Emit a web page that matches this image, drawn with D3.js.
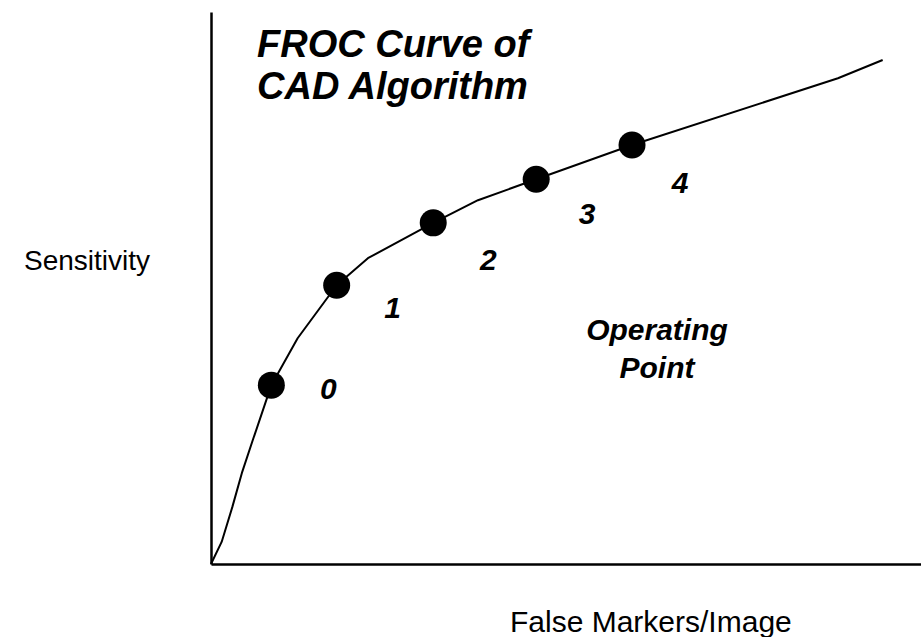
<!DOCTYPE html>
<html>
<head>
<meta charset="utf-8">
<script src="https://cdn.jsdelivr.net/npm/d3@7/dist/d3.min.js"></script>
<style>
  html, body { margin: 0; padding: 0; background: #fff; }
  svg { display: block; }
</style>
</head>
<body>
<svg id="chart" width="921" height="637"></svg>
<script>
// FROC curve knots (false markers per image vs. sensitivity, arbitrary units)
const curveX = [0, 0.15, 0.30, 0.44, 0.59, 0.85, 1.22, 1.77, 2.21, 3.13, 3.76, 4.58, 5.93, 8.83, 9.46];
const curveY = [0, 4.0, 10.3, 16.7, 22.5, 32.4, 40.9, 50.5, 55.4, 61.8, 65.9, 69.7, 75.9, 88.0, 91.3];

// Operating points of the CAD algorithm along the curve
const opLabels = ["0", "1", "2", "3", "4"];
const opX = [0.85, 1.77, 3.13, 4.58, 5.93];
const opY = [32.4, 50.5, 61.8, 69.7, 75.9];

const titleLines = ["FROC Curve of", "CAD Algorithm"];
const noteLines = ["Operating", "Point"];
const xTitle = "False Markers/Image";
const yTitle = "Sensitivity";

const svg = d3.select("#chart");
const plot = { left: 211, bottom: 564, right: 921, top: 12 };

const x = d3.scaleLinear().domain([0, 10]).range([plot.left, plot.right]);
const y = d3.scaleLinear().domain([0, 100]).range([plot.bottom, plot.top]);

// Bare axes: just the domain lines, no ticks
const xAxis = d3.axisBottom(x).tickValues([]).tickSizeOuter(0);
const yAxis = d3.axisLeft(y).tickValues([]).tickSizeOuter(0);

svg.append("g").attr("transform", `translate(0,${plot.bottom})`).call(xAxis)
  .select(".domain").attr("stroke", "#000").attr("stroke-width", 2.5);
svg.append("g").attr("transform", `translate(${plot.left},0)`).call(yAxis)
  .select(".domain").attr("stroke", "#000").attr("stroke-width", 2.5);

// Curve
const line = d3.line().x(d => x(d[0])).y(d => y(d[1])).curve(d3.curveLinear);
svg.append("path")
  .datum(curveX.map((v, i) => [v, curveY[i]]))
  .attr("d", line)
  .attr("fill", "none")
  .attr("stroke", "#000")
  .attr("stroke-width", 2)
  .attr("stroke-linejoin", "round");

// Operating point markers
const ops = opLabels.map((l, i) => ({ label: l, x: opX[i], y: opY[i] }));
svg.append("g").selectAll("circle").data(ops).join("circle")
  .attr("cx", d => x(d.x)).attr("cy", d => y(d.y)).attr("r", 13.5)
  .attr("fill", "#000");

const font = "Liberation Sans, Arial, sans-serif";

// Labels sit below-right of each marker
const labelOffset = [[57, 3], [56, 22], [55, 37], [51, 34], [48, 37]];
svg.append("g").selectAll("text").data(ops).join("text")
  .attr("x", (d, i) => x(d.x) + labelOffset[i][0])
  .attr("y", (d, i) => y(d.y) + labelOffset[i][1])
  .attr("text-anchor", "middle")
  .attr("dominant-baseline", "central")
  .attr("font-family", font)
  .attr("font-weight", "bold")
  .attr("font-style", "italic")
  .attr("font-size", 30)
  .text(d => d.label);

// Title
svg.append("text")
  .attr("font-family", font).attr("font-weight", "bold").attr("font-style", "italic")
  .attr("font-size", 38)
  .selectAll("tspan").data(titleLines).join("tspan")
  .attr("x", 257).attr("y", (d, i) => 57 + i * 42)
  .text(d => d);

// Note for the markers
svg.append("text")
  .attr("font-family", font).attr("font-weight", "bold").attr("font-style", "italic")
  .attr("font-size", 30).attr("text-anchor", "middle")
  .selectAll("tspan").data(noteLines).join("tspan")
  .attr("x", 657).attr("y", (d, i) => 340 + i * 38)
  .text(d => d);

// Axis titles
svg.append("text")
  .attr("x", 510).attr("y", 632)
  .attr("font-family", font).attr("font-size", 30)
  .text(xTitle);

svg.append("text")
  .attr("x", 150).attr("y", 270)
  .attr("text-anchor", "end")
  .attr("font-family", font).attr("font-size", 28)
  .text(yTitle);
</script>
</body>
</html>
